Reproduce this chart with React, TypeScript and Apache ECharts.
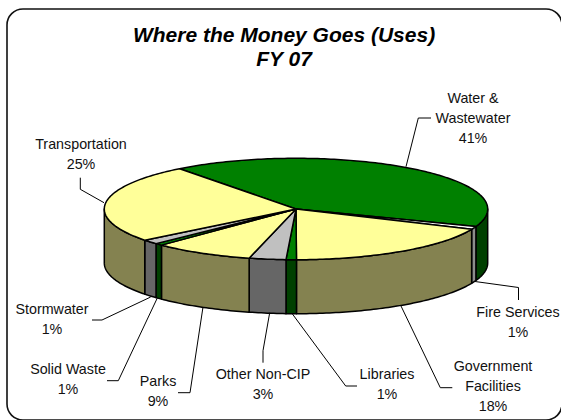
import React, { useEffect, useRef } from "react";
import * as echarts from "echarts";

const categories = ["Water &\nWastewater", "Fire Services", "Government\nFacilities", "Libraries", "Other Non-CIP", "Parks", "Solid Waste", "Stormwater", "Transportation"];
const shares = [41, 0.95, 18.4, 0.87, 3.1, 8.45, 0.65, 1.44, 25.14];
const percentLabels = ["41%", "1%", "18%", "1%", "3%", "9%", "1%", "1%", "25%"];

const topColors = ["#008000", "#ffffff", "#ffff99", "#008000", "#c0c0c0", "#ffff99", "#008000", "#c0c0c0", "#ffff99"];
const wallColors = ["#004000", "#8c8c8c", "#848250", "#004000", "#666666", "#848250", "#004000", "#666666", "#848250"];

const titleText = "Where the Money Goes (Uses)\nFY 07";

// Layout of the labels: centre x and y of the first text line
const labelAnchors: number[][] = [
  [473, 98], [518, 312], [493, 366], [387, 374], [263, 374], [158, 381], [68, 369], [52, 309], [81, 144],
];
// Leader lines, from the label to the pie's rim
const leaders: number[][][] = [
  [[431, 118], [418.3, 118], [406, 166.7]],
  [[518.5, 300], [518.5, 287.5], [475, 281.5]],
  [[452.3, 387.7], [440.3, 387.7], [401, 306]],
  [[357, 386], [345.7, 386], [291.7, 313]],
  [[263, 362.7], [263, 350.7], [269.7, 312.7]],
  [[178, 392.7], [190, 392.7], [203, 307]],
  [[107, 380.7], [118.3, 380.7], [157.3, 298]],
  [[92, 320], [102, 320], [150.7, 297]],
  [[80.3, 177.7], [80.3, 189.3], [104, 202.7]],
];

const CX = 296;
const CY = 209;
const RX = 191.7;
const RY = 50.7;
const DEPTH = 54;
const START = -37.4;

const total = shares.reduce((a, b) => a + b, 0);
const spans = shares.map((_, i) => {
  const before = shares.slice(0, i).reduce((a, b) => a + b, 0);
  return [START + (before / total) * 360, START + ((before + shares[i]) / total) * 360];
});

function rimPoint(deg: number, dy = 0): number[] {
  const r = (deg * Math.PI) / 180;
  return [CX + RX * Math.sin(r), CY - RY * Math.cos(r) + dy];
}

function arc(a: number, b: number, dy = 0): number[][] {
  const n = Math.max(2, Math.ceil(Math.abs(b - a)));
  const pts: number[][] = [];
  for (let i = 0; i <= n; i++) pts.push(rimPoint(a + ((b - a) * i) / n, dy));
  return pts;
}

const edge = { stroke: "#000000", lineWidth: 1.5, lineJoin: "round" as const };

function renderTop(params: any) {
  const i = params.dataIndex;
  const [a, b] = spans[i];
  return {
    type: "polygon",
    shape: { points: [[CX, CY], ...arc(a, b)] },
    style: { fill: topColors[i], ...edge },
    silent: true,
  };
}

function renderWall(params: any) {
  const i = params.dataIndex;
  const a = Math.max(spans[i][0], 90);
  const b = Math.min(spans[i][1], 270);
  if (b <= a) return { type: "group", children: [] };
  return {
    type: "polygon",
    shape: { points: [...arc(a, b), ...arc(b, a, DEPTH)] },
    style: { fill: wallColors[i], ...edge },
    silent: true,
  };
}

export default function App() {
  const ref = useRef<HTMLDivElement>(null);
  useEffect(() => {
    document.body.style.margin = "0";
    const chart = echarts.init(ref.current!, null, { renderer: "svg" });
    const labelFont = { fontFamily: "Liberation Sans", fontSize: 14.3, lineHeight: 20, fill: "#111111" };
    chart.setOption({
      animation: false,
      backgroundColor: "#ffffff",
      title: {
        text: titleText,
        left: 279,
        top: 17,
        textAlign: "center",
        textStyle: {
          fontFamily: "Liberation Sans",
          fontStyle: "italic",
          fontWeight: "bold",
          fontSize: 21,
          lineHeight: 24,
          color: "#000000",
        },
      },
      graphic: [
        {
          type: "rect",
          z: -1,
          silent: true,
          shape: { x: 7, y: 9, width: 555, height: 411, r: 16 },
          style: { fill: "#ffffff", stroke: "#111111", lineWidth: 1.6 },
        },
        ...leaders.map((points) => ({
          type: "polyline",
          silent: true,
          z: 5,
          shape: { points },
          style: { stroke: "#000000", lineWidth: 1, fill: "none" },
        })),
        ...categories.map((name, i) => ({
          type: "text",
          silent: true,
          z: 6,
          x: labelAnchors[i][0],
          y: labelAnchors[i][1] - 10,
          style: {
            ...labelFont,
            text: name + "\n" + percentLabels[i],
            align: "center",
            verticalAlign: "top",
          },
        })),
      ],
      series: [
        { type: "custom", coordinateSystem: "none", renderItem: renderWall, data: shares, z: 2, silent: true },
        { type: "custom", coordinateSystem: "none", renderItem: renderTop, data: shares, z: 3, silent: true },
      ],
    });
    return () => chart.dispose();
  }, []);
  return <div ref={ref} style={{ width: 561, height: 420 }} />;
}
